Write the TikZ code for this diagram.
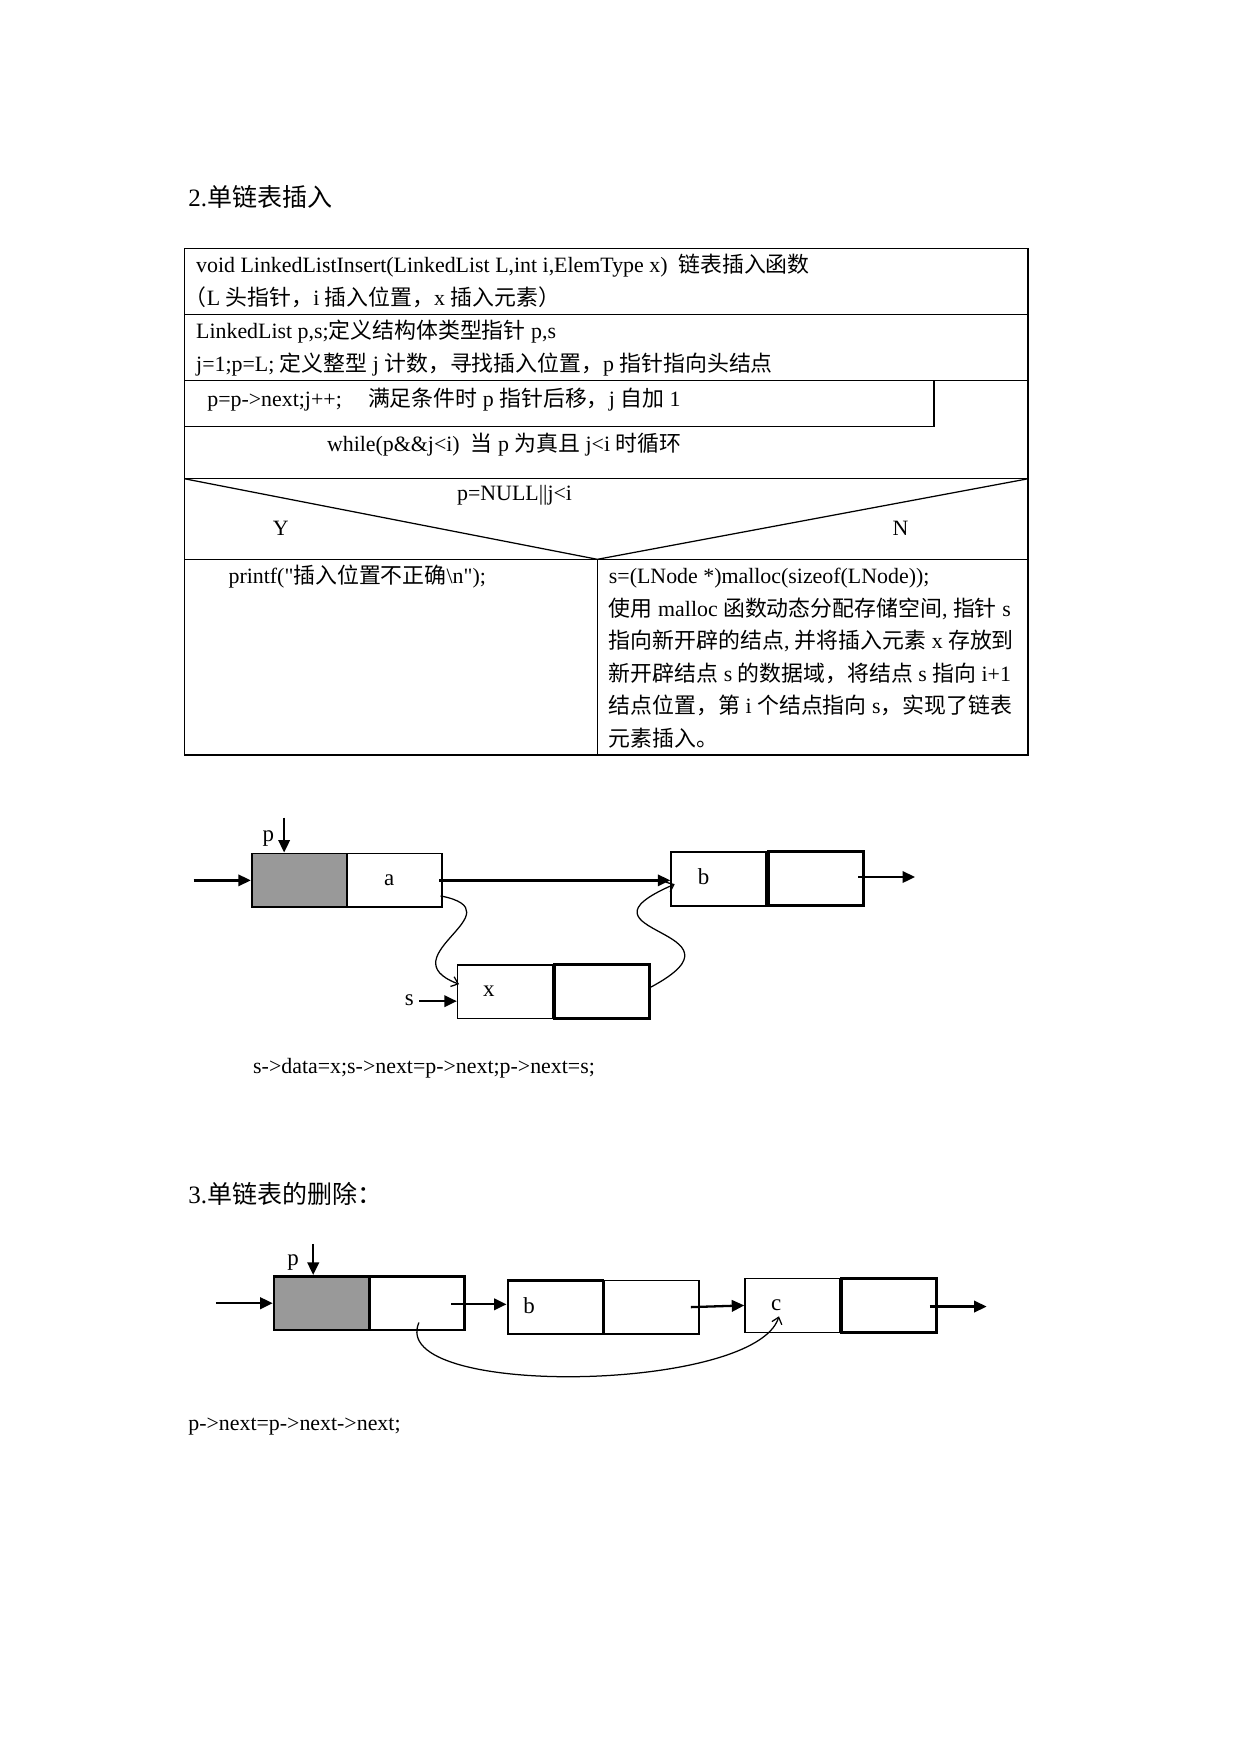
\documentclass[tikz,border=0pt]{standalone}
\usepackage{fontspec}
\setmainfont{Liberation Serif}[Ligatures=TeXOff]
\newfontfamily\cjkfont{Noto Sans CJK SC}
\newcommand\zhs[1]{{\cjkfont #1}}
\usetikzlibrary{arrows.meta,calc}
\definecolor{boxgray}{RGB}{153,153,153}
\begin{document}
\begin{tikzpicture}[x=0.53669pt,y=-0.53669pt,
  txt/.style={anchor=base west,inner sep=0pt,font=\fontsize{10.5}{13}\selectfont},
  ttl/.style={anchor=base west,inner sep=0pt,font=\fontsize{12}{14}\selectfont},
  ctxt/.style={anchor=center,inner sep=0pt,font=\fontsize{10.5}{13}\selectfont},
  lbl/.style={anchor=center,inner sep=0pt,font=\fontsize{11}{13}\selectfont},
  cell/.style={draw,minimum width=45.6pt,minimum height=25.8pt,inner sep=0pt,line width=0.9pt},
  thincell/.style={cell,line width=0.7pt},
  thickcell/.style={cell,line width=1.3pt},
  tab/.style={line width=0.6pt},
  arr/.style={line width=1.1pt,-{Triangle[length=6pt,width=5.5pt]}},
  curv/.style={line width=0.6pt,-{Straight Barb[length=3pt,width=5pt]}}]
\useasboundingbox (0,0) rectangle (1109,1568);

% ---------- title
\node[ttl] (title1) at (168,185) {2.\zhs{单链表插入}};

% ---------- table
\draw[tab] (165,222) rectangle (919,675);
\draw[tab] (165,281) -- (919,281);
\draw[tab] (165,340) -- (919,340);
\draw[tab] (165,381) -- (835,381) -- (835,340);
\draw[tab] (165,428) -- (919,428);
\draw[tab] (165,428) -- (534,500) -- (919,428);
\draw[tab] (165,500) -- (919,500);
\draw[tab] (534,500) -- (534,675);

\node[txt] (r1a) at (175,244) {void LinkedListInsert(LinkedList L,int i,ElemType x)\hspace{0.5em}\zhs{链表插入函数}};
\node[txt] (r1b) at (165,273) {\zhs{（}L \zhs{头指针，}i \zhs{插入位置，}x \zhs{插入元素）}};
\node[txt] (r2a) at (175,303) {LinkedList p,s;\zhs{定义结构体类型指针} p,s};
\node[txt] (r2b) at (175,332) {j=1;p=L; \zhs{定义整型} j \zhs{计数，寻找插入位置，}p \zhs{指针指向头结点}};
\node[txt] (r3) at (185,363) {p=p->next;j++;\hspace{1.2em}\zhs{满足条件时} p \zhs{指针后移，}j \zhs{自加} 1};
\node[txt] (r4) at (292,404) {while(p\&\&j<i)\hspace{0.5em}\zhs{当} p \zhs{为真且} j<i \zhs{时循环}};
\node[ctxt] (cond) at (460,443) {p=NULL||j<i};
\node[ctxt] (yes) at (251,472) {Y};
\node[ctxt] (no) at (805,472) {N};
\node[txt] (left6) at (204,522) {printf("\zhs{插入位置不正确}\textbackslash n");};
\node[txt] (rt1) at (544,522) {s=(LNode *)malloc(sizeof(LNode));};
\node[txt] (rt2) at (544,551) {\zhs{使用} malloc \zhs{函数动态分配存储空间}, \zhs{指针} s};
\node[txt] (rt3) at (544,580) {\zhs{指向新开辟的结点}, \zhs{并将插入元素} x \zhs{存放到}};
\node[txt] (rt4) at (544,609) {\zhs{新开辟结点} s \zhs{的数据域，将结点} s \zhs{指向} i+1};
\node[txt] (rt5) at (544,638) {\zhs{结点位置，第} i \zhs{个结点指向} s\zhs{，实现了链表}};
\node[txt] (rt6) at (544,667) {\zhs{元素插入。}};

% ---------- insertion diagram
\node[cell,fill=boxgray] (a1) at (267.5,787) {};
\node[cell] (a2) at (352.5,787) {};
\node[lbl] (ta) at (348,787) {a};
\node[cell] (b1) at (642.5,785.5) {};
\node[thickcell] (b2) at (729.5,785.5) {};
\node[lbl] (tb) at (629,784) {b};
\node[thincell] (x1) at (451.5,886.5) {};
\node[thickcell] (x2) at (538,886.5) {};
\node[lbl] (tx) at (437,886) {x};

\node[lbl] (plbl) at (240,750) {p};
\coordinate (ptop) at (254,731);
\draw[arr] (ptop) -- (ptop |- a1.north);
\coordinate (ain) at (173,787);
\draw[arr] (ain) -- (a1.west);
\draw[arr] ($(a2.east)+(-3,0)$) -- (b1.west |- a2.east);
\coordinate (bout) at (818,784);
\draw[arr] ($(b2.east)+(-6,-1.5)$) -- (bout);
\node[lbl] (slbl) at (366,894) {s};
\coordinate (s0) at (375,895);
\draw[arr] (s0) -- (s0 -| x1.west);
\draw[curv] ($(a2.south east)+(-2,-11)$) .. controls (465,815) and (345,855) .. ($(x1.north west)+(2,18)$);
\draw[curv] ($(x2.east)+(0,-4)$) .. controls (680,830) and (500,835) .. ($(b1.south west)+(4,-20)$);

\node[txt] (code1) at (226,960) {s->data=x;s->next=p->next;p->next=s;};

% ---------- deletion
\node[ttl] (title2) at (168,1076) {3.\zhs{单链表的删除：}};

\node[thickcell,fill=boxgray] (d1) at (287.5,1165) {};
\node[thickcell] (d2) at (372.5,1165) {};
\node[thickcell] (e1) at (496.5,1168.5) {};
\node[thincell] (e2) at (582.5,1168.5) {};
\node[lbl] (tb2) at (473,1167) {b};
\node[thincell] (f1) at (708.5,1167) {};
\node[thickcell] (f2) at (794.5,1167) {};
\node[lbl] (tc) at (694,1167) {c};

\node[lbl] (plbl2) at (262,1129) {p};
\coordinate (ptop2) at (280,1112);
\draw[arr] (ptop2) -- (ptop2 |- d1.north);
\coordinate (din) at (193,1165);
\draw[arr] (din) -- (d1.west);
\draw[arr] ($(d2.east)+(-13,1)$) -- ($(e1.west)+(0,-2.5)$);
\draw[arr] ($(e2.east)+(-8,0)$) -- (f1.west);
\coordinate (fout) at (882,1168);
\draw[arr] ($(f2.east)+(-7,1)$) -- (fout);
\draw[curv] ($(d2.south)+(2,-8)$) .. controls (345,1250) and (675,1245) .. ($(f1.south west)+(31,-15)$);

\node[txt] (code2) at (168,1279) {p->next=p->next->next;};
\end{tikzpicture}
\end{document}
